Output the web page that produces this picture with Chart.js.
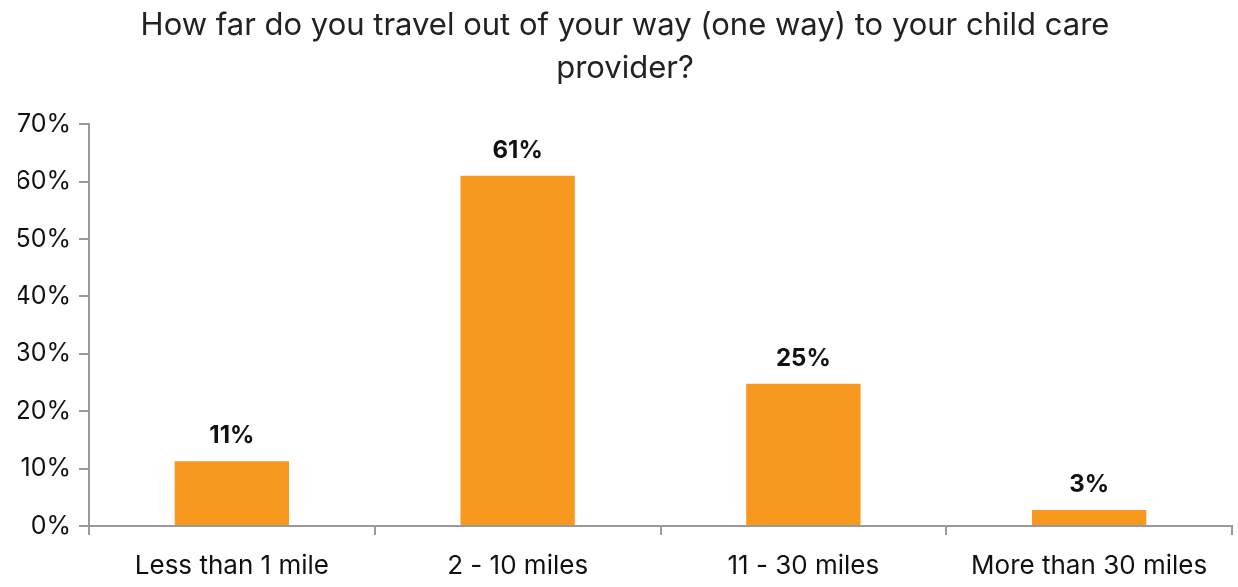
<!DOCTYPE html>
<html>
<head>
<meta charset="utf-8">
<script src="https://cdn.jsdelivr.net/npm/chart.js@4/dist/chart.umd.min.js"></script>
<style>
  html, body { margin: 0; padding: 0; background: #fff; }
  #wrap { width: 1238px; height: 587px; }
</style>
</head>
<body>
<div id="wrap"><canvas id="travelChart"></canvas></div>
<script>
// distance travelled to child care provider
const categories = ["Less than 1 mile", "2 - 10 miles", "11 - 30 miles", "More than 30 miles"];
const shares = [11.3, 61, 24.8, 2.8];
const shareLabels = ["11%", "61%", "25%", "3%"];
const titleLines = ["How far do you travel out of your way (one way) to your child care", "provider?"];

const FONT = "Inter, 'Open Sans', sans-serif";
const AXIS_GRAY = "#9a9a9a";

// bold value labels above each bar
const barLabels = {
  id: "barLabels",
  afterDatasetsDraw: (chart) => {
    const ctx = chart.ctx;
    const meta = chart.getDatasetMeta(0);
    ctx.save();
    ctx.font = "bold 24px " + FONT;
    ctx.fillStyle = "#111";
    ctx.textAlign = "center";
    ctx.textBaseline = "alphabetic";
    meta.data.forEach((bar, i) => {
      ctx.fillText(shareLabels[i], bar.x, bar.y - 18);
    });
    ctx.restore();
  },
};

new Chart(document.getElementById("travelChart").getContext("2d"), {
  type: "bar",
  data: {
    labels: categories,
    datasets: [
      {
        data: shares,
        backgroundColor: "#F7981F",
        barPercentage: 0.4,
        categoryPercentage: 1,
      },
    ],
  },
  options: {
    responsive: true,
    maintainAspectRatio: false,
    animation: false,
    layout: { padding: { left: 18, right: 6, top: 4, bottom: 2 } },
    plugins: {
      legend: { display: false },
      tooltip: { enabled: false },
      title: {
        display: true,
        text: titleLines,
        color: "#222",
        font: { family: FONT, size: 31, weight: "normal", lineHeight: 1.39 },
        padding: { top: 0, bottom: 34 },
      },
    },
    scales: {
      x: {
        afterFit: (axis) => { axis.height = 59; },
        grid: {
          display: true,
          drawOnChartArea: false,
          offset: true,
          tickLength: 9,
          color: AXIS_GRAY,
          lineWidth: 2,
        },
        border: { display: true, color: AXIS_GRAY, width: 2 },
        ticks: {
          color: "#111",
          font: { family: FONT, size: 26 },
          padding: 16,
          maxRotation: 0,
        },
      },
      y: {
        min: 0,
        max: 70,
        afterFit: (axis) => { axis.width = 71; },
        grid: {
          display: true,
          drawOnChartArea: false,
          tickLength: 10,
          color: AXIS_GRAY,
          lineWidth: 2,
        },
        border: { display: true, color: AXIS_GRAY, width: 2 },
        ticks: {
          stepSize: 10,
          color: "#111",
          font: { family: FONT, size: 25 },
          padding: 8,
          callback: (value) => value + "%",
        },
      },
    },
  },
  plugins: [barLabels],
});
</script>
</body>
</html>
